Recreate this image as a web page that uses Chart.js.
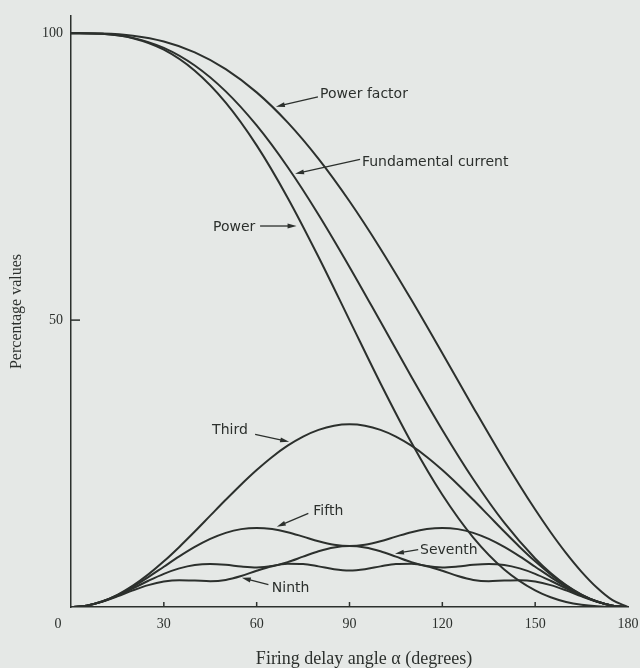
<!DOCTYPE html>
<html>
<head>
<meta charset="utf-8">
<title>AC voltage controller characteristics</title>
<script src="https://cdn.jsdelivr.net/npm/chart.js@4.4.1/dist/chart.umd.min.js"></script>
<style>
  html, body { margin: 0; padding: 0; background: #e5e8e6; }
  #wrap { width: 640px; height: 668px; }
</style>
</head>
<body>
<div id="wrap"><canvas id="chart"></canvas></div>
<script>
// firing angle (degrees) for the three big curves, finer near the end
const anglesMain = [0, 10, 20, 30, 40, 50, 60, 70, 80, 90, 100, 110, 120, 130, 140, 150, 155, 160, 165, 170, 175, 180];
const powerFactor = [100, 99.94, 99.56, 98.55, 96.67, 93.75, 89.69, 84.46, 78.10, 70.71, 62.45, 53.53, 44.22, 34.79, 25.59, 16.98, 13.03, 9.39, 6.13, 3.35, 1.19, 0];
const fundamental = [100, 99.89, 99.19, 97.44, 94.37, 89.86, 83.92, 76.68, 68.37, 59.27, 49.74, 40.14, 30.86, 22.26, 14.69, 8.46, 5.93, 3.83, 2.17, 0.97, 0.24, 0];
const power = [100, 99.89, 99.12, 97.12, 93.45, 87.90, 80.45, 71.34, 61.00, 50.00, 39.00, 28.66, 19.55, 12.10, 6.55, 2.88, 1.70, 0.88, 0.38, 0.11, 0.01, 0];

// harmonics read at 5 degree steps
const anglesHarm = [0, 5, 10, 15, 20, 25, 30, 35, 40, 45, 50, 55, 60, 65, 70, 75, 80, 85, 90,
  95, 100, 105, 110, 115, 120, 125, 130, 135, 140, 145, 150, 155, 160, 165, 170, 175, 180];
const third = [0, 0.24, 0.96, 2.13, 3.72, 5.69, 7.96, 10.47, 13.15, 15.92, 18.68, 21.36, 23.87, 26.15, 28.11, 29.70, 30.87, 31.59, 31.83,
  31.59, 30.87, 29.70, 28.11, 26.15, 23.87, 21.36, 18.68, 15.92, 13.15, 10.47, 7.96, 5.69, 3.72, 2.13, 0.96, 0.24, 0];
const fifth = [0, 0.24, 0.95, 2.07, 3.52, 5.21, 7.02, 8.81, 10.46, 11.86, 12.92, 13.57, 13.78, 13.58, 13.04, 12.27, 11.46, 10.85, 10.61,
  10.85, 11.46, 12.27, 13.04, 13.58, 13.78, 13.57, 12.92, 11.86, 10.46, 8.81, 7.02, 5.21, 3.52, 2.07, 0.95, 0.24, 0];
const seventh = [0, 0.24, 0.93, 1.97, 3.24, 4.57, 5.78, 6.73, 7.32, 7.50, 7.36, 7.06, 6.89, 7.13, 7.82, 8.78, 9.71, 10.37, 10.61,
  10.37, 9.71, 8.78, 7.82, 7.13, 6.89, 7.06, 7.36, 7.50, 7.32, 6.73, 5.78, 4.57, 3.24, 1.97, 0.93, 0.24, 0];
const ninth = [0, 0.24, 0.90, 1.85, 2.90, 3.81, 4.43, 4.67, 4.61, 4.50, 4.72, 5.40, 6.32, 7.11, 7.53, 7.49, 7.08, 6.59, 6.37,
  6.59, 7.08, 7.49, 7.53, 7.11, 6.32, 5.40, 4.72, 4.50, 4.61, 4.67, 4.43, 3.81, 2.90, 1.85, 0.90, 0.24, 0];

const xTicks = [0, 30, 60, 90, 120, 150, 180];
const yTicks = [0, 50, 100];

// curve labels: text anchor, arrow tail and arrow tip, all in data units
const notes = [
  { text: 'Power factor', at: [80.5, 88.7], tail: [79.8, 88.9], tip: [66.2, 87.2] },
  { text: 'Fundamental current', at: [94.0, 76.9], tail: [93.4, 78.0], tip: [72.4, 75.5] },
  { text: 'Power', at: [45.9, 65.5], tail: [61.1, 66.4], tip: [72.9, 66.4] },
  { text: 'Third', at: [45.6, 30.1], tail: [59.5, 30.1], tip: [70.5, 28.8] },
  { text: 'Fifth', at: [78.3, 16.0], tail: [76.7, 16.3], tip: [66.5, 14.0] },
  { text: 'Seventh', at: [112.8, 9.2], tail: [112.2, 10.0], tip: [104.7, 9.3] },
  { text: 'Ninth', at: [64.9, 2.65], tail: [63.8, 3.9], tip: [55.2, 5.1] }
];

const ink = '#2c302d';
const paper = '#e5e8e6';
const serif = "'Liberation Serif', 'DejaVu Serif', serif";
const sans = "'DejaVu Sans', sans-serif";

const toPoints = (xs, ys) => xs.map((x, i) => ({ x, y: ys[i] }));

function curve(xs, ys) {
  return {
    data: toPoints(xs, ys),
    borderColor: ink,
    borderWidth: 2,
    pointRadius: 0,
    fill: false,
    cubicInterpolationMode: 'monotone'
  };
}

function drawArrow(ctx, x1, y1, x2, y2) {
  const ang = Math.atan2(y2 - y1, x2 - x1);
  const len = 9, half = 2.5;
  ctx.beginPath();
  ctx.moveTo(x1, y1);
  ctx.lineTo(x2 - Math.cos(ang) * len * 0.6, y2 - Math.sin(ang) * len * 0.6);
  ctx.stroke();
  ctx.beginPath();
  ctx.moveTo(x2, y2);
  ctx.lineTo(x2 - Math.cos(ang) * len - Math.sin(ang) * half, y2 - Math.sin(ang) * len + Math.cos(ang) * half);
  ctx.lineTo(x2 - Math.cos(ang) * len + Math.sin(ang) * half, y2 - Math.sin(ang) * len - Math.cos(ang) * half);
  ctx.closePath();
  ctx.fill();
}

const paperAndNotes = {
  id: 'paperAndNotes',
  beforeDraw(chart) {
    const { ctx } = chart;
    ctx.save();
    ctx.fillStyle = paper;
    ctx.fillRect(0, 0, chart.width, chart.height);
    ctx.restore();
  },
  afterDraw(chart) {
    const { ctx, scales: { x, y } } = chart;
    ctx.save();
    ctx.strokeStyle = ink;
    ctx.fillStyle = ink;
    ctx.lineWidth = 1.5;

    // inward tick marks
    xTicks.slice(1, -1).forEach(v => {
      const px = x.getPixelForValue(v);
      ctx.beginPath();
      ctx.moveTo(px, y.bottom);
      ctx.lineTo(px, y.bottom - 5);
      ctx.stroke();
    });
    yTicks.slice(1).forEach(v => {
      const py = y.getPixelForValue(v);
      ctx.beginPath();
      ctx.moveTo(x.left, py);
      ctx.lineTo(x.left + 9, py);
      ctx.stroke();
    });

    // shared origin label
    ctx.font = '14px ' + serif;
    ctx.textAlign = 'center';
    ctx.textBaseline = 'middle';
    ctx.fillText('0', x.left - 13, y.bottom + 17);

    // x axis title
    ctx.font = '18px ' + serif;
    ctx.fillText('Firing delay angle α (degrees)', x.getPixelForValue(94.7), chart.height - 9);

    // curve labels with arrows
    ctx.font = '14px ' + sans;
    ctx.textAlign = 'left';
    ctx.textBaseline = 'alphabetic';
    ctx.lineWidth = 1.3;
    notes.forEach(n => {
      ctx.fillText(n.text, x.getPixelForValue(n.at[0]), y.getPixelForValue(n.at[1]));
      drawArrow(ctx,
        x.getPixelForValue(n.tail[0]), y.getPixelForValue(n.tail[1]),
        x.getPixelForValue(n.tip[0]), y.getPixelForValue(n.tip[1]));
    });
    ctx.restore();
  }
};

new Chart(document.getElementById('chart'), {
  type: 'line',
  data: {
    datasets: [
      curve(anglesMain, powerFactor),
      curve(anglesMain, fundamental),
      curve(anglesMain, power),
      curve(anglesHarm, third),
      curve(anglesHarm, fifth),
      curve(anglesHarm, seventh),
      curve(anglesHarm, ninth)
    ]
  },
  options: {
    responsive: true,
    maintainAspectRatio: false,
    animation: false,
    layout: { padding: { top: 16, right: 12, left: 0, bottom: 0 } },
    plugins: {
      legend: { display: false },
      tooltip: { enabled: false }
    },
    scales: {
      x: {
        type: 'linear',
        min: 0,
        max: 180,
        afterBuildTicks: s => { s.ticks = xTicks.map(v => ({ value: v })); },
        afterFit: s => { s.height = 61; s.paddingLeft = 0; s.paddingRight = 0; },
        grid: { display: false, drawTicks: false },
        border: { display: true, color: ink, width: 1.5 },
        ticks: {
          padding: 9,
          color: ink,
          font: { family: serif, size: 14 },
          maxRotation: 0,
          callback: v => (v === 0 ? '' : v)
        }
      },
      y: {
        min: 0,
        max: 103,
        afterBuildTicks: s => { s.ticks = yTicks.map(v => ({ value: v })); },
        afterFit: s => { s.width = 71; s.paddingTop = 0; s.paddingBottom = 0; },
        grid: { display: false, drawTicks: false },
        border: { display: true, color: ink, width: 1.5 },
        ticks: {
          padding: 8,
          color: ink,
          font: { family: serif, size: 14 },
          callback: v => (v === 0 ? '' : v)
        },
        title: {
          display: true,
          text: 'Percentage values',
          color: ink,
          font: { family: serif, size: 16 },
          padding: { top: 7, bottom: 0 }
        }
      }
    }
  },
  plugins: [paperAndNotes]
});
</script>
</body>
</html>
